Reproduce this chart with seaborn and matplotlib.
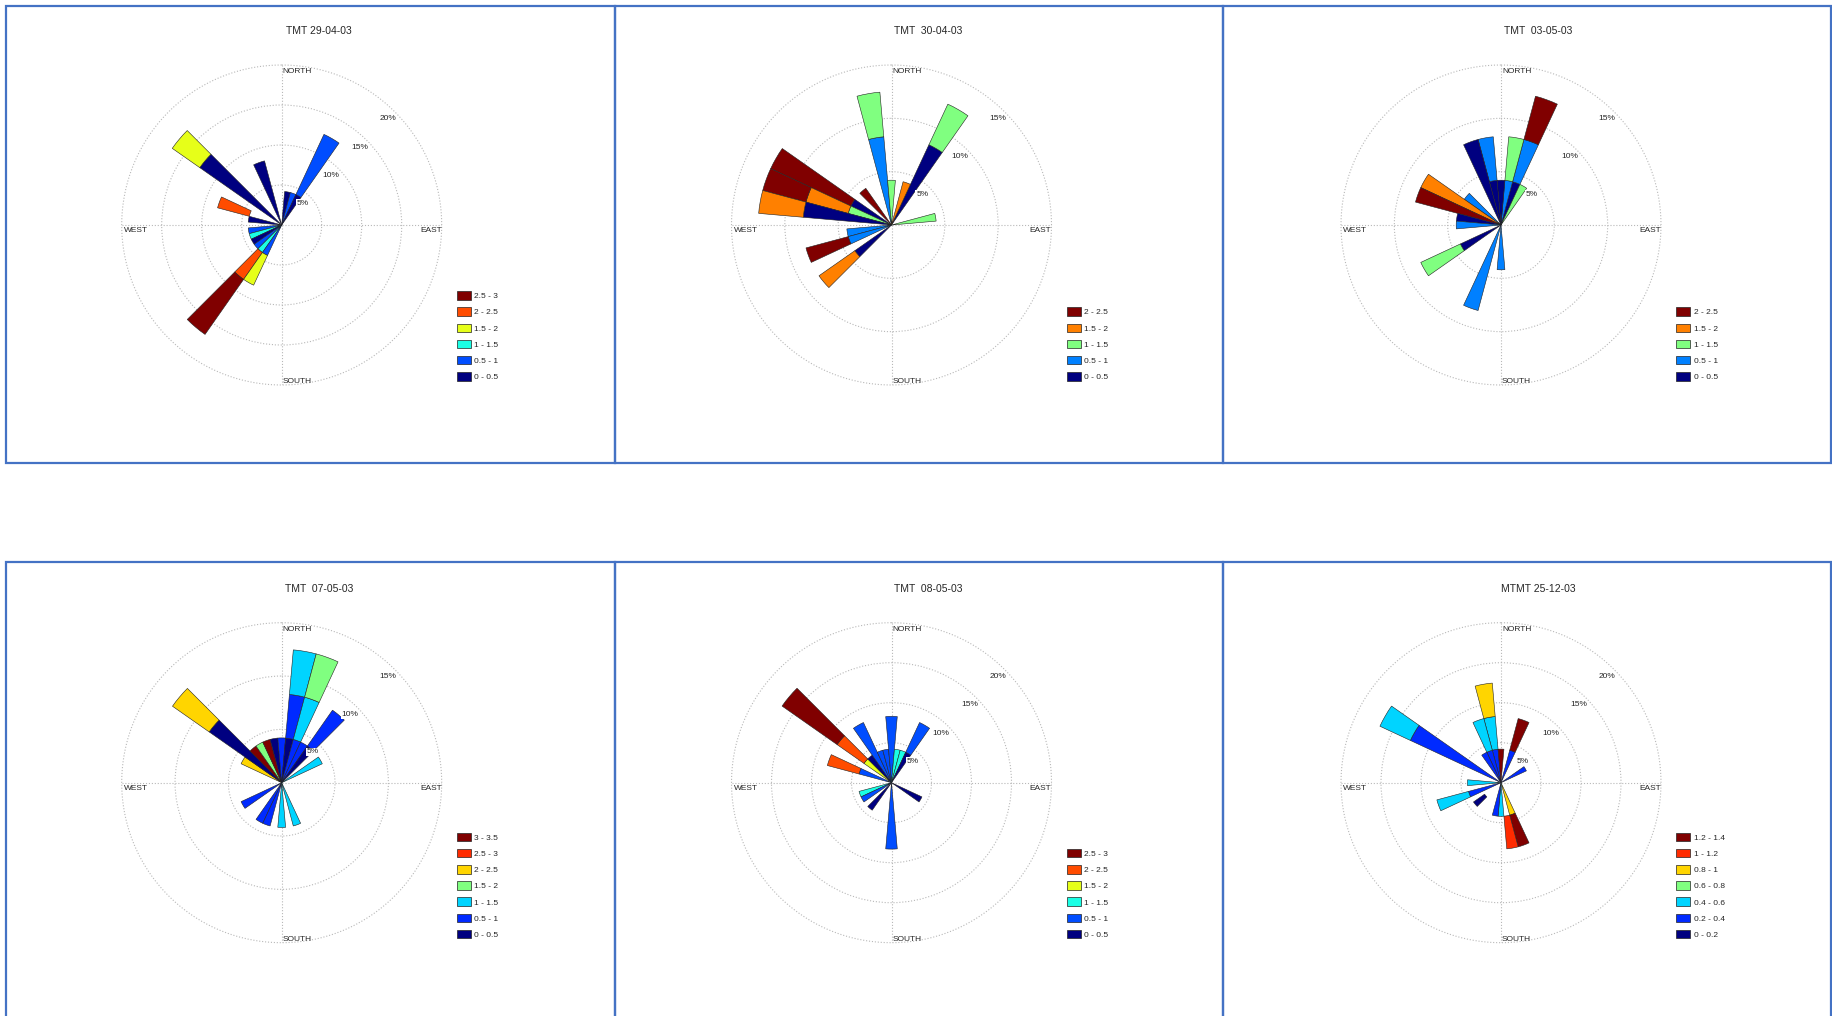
import numpy as np
import matplotlib
matplotlib.use("Agg")
import matplotlib.pyplot as plt
import seaborn as sns
from matplotlib.patches import Patch, Rectangle

sns.set_theme(style="white")
plt.rcParams['font.family'] = ['Liberation Sans', 'DejaVu Sans']

# 图表标题
titles = ["TMT 29-04-03", "TMT  30-04-03", "TMT  03-05-03",
          "TMT  07-05-03", "TMT  08-05-03", "MTMT 25-12-03"]

# 风速分级 (图例)
classes_6 = ["0 - 0.5", "0.5 - 1", "1 - 1.5", "1.5 - 2", "2 - 2.5", "2.5 - 3"]
classes_5 = ["0 - 0.5", "0.5 - 1", "1 - 1.5", "1.5 - 2", "2 - 2.5"]
classes_7 = ["0 - 0.5", "0.5 - 1", "1 - 1.5", "1.5 - 2", "2 - 2.5", "2.5 - 3", "3 - 3.5"]
classes_mtmt = ["0 - 0.2", "0.2 - 0.4", "0.4 - 0.6", "0.6 - 0.8", "0.8 - 1", "1 - 1.2", "1.2 - 1.4"]

# 频率圆环 (%)
rings_20 = [5, 10, 15, 20]
rings_15 = [5, 10, 15]

# 风向段: (方向 deg, 风速等级, 起始 %, 结束 %)
rose_2904 = [
    (10, 0, 0, 4.2), (20, 1, 0, 4.2), (30, 0, 0, 4.2), (30, 1, 4.2, 12.5),
    (340, 0, 0, 8.3), (310, 0, 0, 12.5), (310, 3, 12.5, 16.7),
    (290, 4, 4.2, 8.3), (280, 0, 0, 4.2), (260, 1, 0, 4.2), (250, 2, 0, 4.2),
    (240, 0, 0, 4.2), (230, 1, 0, 4.2),
    (220, 2, 0, 4.2), (220, 4, 4.2, 8.3), (220, 5, 8.3, 16.7),
    (210, 1, 0, 4.2), (210, 3, 4.2, 8.3),
]
rose_3004 = [
    (350, 1, 0, 8.3), (350, 2, 8.3, 12.5), (30, 0, 0, 8.3), (30, 2, 8.3, 12.5),
    (0, 2, 0, 4.2), (20, 3, 0, 4.2), (80, 2, 0, 4.2),
    (300, 0, 0, 4.2), (300, 4, 4.2, 12.5),
    (290, 2, 0, 4.2), (290, 3, 4.2, 8.3), (290, 4, 8.3, 12.5),
    (280, 0, 0, 8.3), (280, 3, 8.3, 12.5), (320, 4, 0, 4.2),
    (260, 1, 0, 4.2), (250, 1, 0, 4.2), (250, 4, 4.2, 8.3),
    (230, 0, 0, 4.2), (230, 3, 4.2, 8.3),
]
rose_0305 = [
    (20, 0, 0, 4.2), (20, 1, 4.2, 8.3), (20, 4, 8.3, 12.5),
    (10, 1, 0, 4.2), (10, 2, 4.2, 8.3), (30, 2, 0, 4.2), (0, 0, 0, 4.2),
    (350, 0, 0, 4.2), (350, 1, 4.2, 8.3), (340, 0, 0, 8.3), (310, 1, 0, 4.2),
    (300, 3, 0, 8.3), (290, 4, 0, 8.3), (280, 0, 0, 4.2), (270, 1, 0, 4.2),
    (240, 0, 0, 4.2), (240, 2, 4.2, 8.3), (200, 1, 0, 8.3), (180, 1, 0, 4.2),
]
rose_0705 = [
    (300, 4, 0, 4.2), (310, 0, 0, 8.3), (310, 4, 8.3, 12.5),
    (320, 6, 0, 4.2), (330, 3, 0, 4.2), (340, 6, 0, 4.2), (350, 0, 0, 4.2),
    (0, 1, 0, 4.2), (10, 0, 0, 4.2), (10, 1, 4.2, 8.3), (10, 2, 8.3, 12.5),
    (20, 1, 0, 4.2), (20, 2, 4.2, 8.3), (20, 3, 8.3, 12.5),
    (30, 1, 0, 4.2), (40, 0, 0, 4.2), (40, 1, 4.2, 8.3), (60, 2, 0, 4.2),
    (240, 1, 0, 4.2), (210, 1, 0, 4.2), (200, 1, 0, 4.2),
    (180, 2, 0, 4.2), (160, 2, 0, 4.2),
]
rose_0805 = [
    (310, 3, 0, 4.2), (310, 4, 4.2, 8.3), (310, 5, 8.3, 16.7),
    (320, 0, 0, 4.2), (290, 1, 0, 4.2), (290, 4, 4.2, 8.3),
    (330, 1, 0, 8.3), (340, 1, 0, 4.2), (350, 1, 0, 4.2), (0, 1, 0, 8.3),
    (10, 2, 0, 4.2), (20, 2, 0, 4.2), (30, 0, 0, 4.2), (30, 1, 4.2, 8.3),
    (250, 2, 0, 4.2), (240, 1, 0, 4.2), (220, 0, 0, 4.2),
    (180, 1, 0, 8.3), (120, 0, 0, 4.2),
]
rose_2512 = [
    (300, 1, 0, 12.5), (300, 2, 12.5, 16.7),
    (350, 1, 0, 4.2), (350, 2, 4.2, 8.3), (350, 4, 8.3, 12.5),
    (340, 1, 0, 4.2), (340, 2, 4.2, 8.3), (330, 1, 0, 4.2), (0, 6, 0, 4.2),
    (20, 1, 0, 4.2), (20, 6, 4.2, 8.3), (60, 1, 0, 3.5),
    (160, 4, 0, 4.2), (160, 6, 4.2, 8.3), (170, 5, 4.2, 8.3),
    (180, 2, 0, 4.2), (190, 1, 0, 4.2), (230, 0, 2.5, 4.2),
    (250, 1, 0, 4.2), (250, 2, 4.2, 8.3), (270, 2, 0, 4.2),
]

charts = [
    (rose_2904, classes_6, rings_20), (rose_3004, classes_5, rings_15),
    (rose_0305, classes_5, rings_15), (rose_0705, classes_7, rings_15),
    (rose_0805, classes_6, rings_20), (rose_2512, classes_mtmt, rings_20),
]

W, H = 1832, 1016
centers = [(281.7, 225), (891.5, 225), (1501, 225),
           (281.7, 782.7), (891.5, 782.7), (1501, 782.7)]
R = 160
grid_col = "#b8b8b8"


def matlab_jet(n):
    """MATLAB 风格的 jet 色表"""
    t = np.linspace(0, 1, n)
    r = np.clip(np.minimum(4 * t - 1.5, -4 * t + 4.5), 0, 1)
    g = np.clip(np.minimum(4 * t - 0.5, -4 * t + 3.5), 0, 1)
    b = np.clip(np.minimum(4 * t + 0.5, -4 * t + 2.5), 0, 1)
    return sns.color_palette(list(zip(r, g, b)))


def draw_rose(ax, segs, classes, rings):
    """绘制单个风玫瑰图"""
    rmax = rings[-1]
    colors = matlab_jet(len(classes))

    ax.set_theta_zero_location("N")
    ax.set_theta_direction(-1)
    ax.set_rlim(0, rmax)
    ax.set_xticks(np.deg2rad([0, 90, 180, 270]))
    ax.set_yticks(rings[:-1])
    ax.set_xticklabels([])
    ax.set_yticklabels([])
    ax.tick_params(length=0)
    ax.grid(True, color=grid_col, linestyle=":", linewidth=0.8)
    ax.spines["polar"].set_visible(False)
    ax.set_axisbelow(True)

    # 外圈
    th = np.linspace(0, 2 * np.pi, 361)
    ax.plot(th, np.full_like(th, rmax), linestyle=":", color=grid_col,
            linewidth=0.8, clip_on=False, zorder=1)

    for d, c, lo, hi in segs:
        ax.bar(np.deg2rad(d), hi - lo, width=np.deg2rad(10), bottom=lo,
               color=colors[c], edgecolor="#222222", linewidth=0.4, zorder=2)

    # 百分比标签
    for r in rings:
        ax.annotate(f"{r}%", xy=(np.deg2rad(45), r), xytext=(-7, -7),
                    textcoords="offset pixels", ha="center", va="center",
                    fontsize=6, zorder=6,
                    bbox=dict(fc="white", ec="none", pad=0.6))

    # 方位标签
    ax.annotate("NORTH", xy=(0, rmax), xytext=(1, -3), textcoords="offset pixels",
                ha="left", va="top", fontsize=6, annotation_clip=False)
    ax.annotate("SOUTH", xy=(np.pi, rmax), xytext=(1, 0), textcoords="offset pixels",
                ha="left", va="bottom", fontsize=6, annotation_clip=False)
    ax.annotate("WEST", xy=(1.5 * np.pi, rmax), xytext=(2, -2), textcoords="offset pixels",
                ha="left", va="top", fontsize=6, annotation_clip=False)
    ax.annotate("EAST", xy=(0.5 * np.pi, rmax), xytext=(0, -2), textcoords="offset pixels",
                ha="right", va="top", fontsize=6, annotation_clip=False)

    handles = [Patch(facecolor=colors[i], edgecolor="#222222", linewidth=0.5,
                     label=classes[i]) for i in reversed(range(len(classes)))]
    ax.legend(handles=handles, loc="lower left", bbox_to_anchor=(1.047, 0.012),
              frameon=False, fontsize=6, handlelength=1.7, handleheight=1.2,
              handletextpad=0.4, labelspacing=0.85, borderpad=0, borderaxespad=0)


fig = plt.figure(figsize=(W / 100, H / 100), dpi=100)

for (segs, classes, rings), (cx, cy), title in zip(charts, centers, titles):
    ax = fig.add_axes([(cx - R) / W, (H - cy - R) / H, 2 * R / W, 2 * R / H],
                      projection="polar")
    draw_rose(ax, segs, classes, rings)
    fig.text((cx + 37) / W, 1 - (cy - 194) / H, title, ha="center", va="center",
             fontsize=7.5)

# 表格边框
xs = [6, 615, 1223, 1831]
for x0, x1 in zip(xs[:-1], xs[1:]):
    for y_top, y_bot in [(6, 463), (562, 1030)]:
        fig.add_artist(Rectangle((x0 / W, 1 - y_bot / H), (x1 - x0) / W,
                                 (y_bot - y_top) / H, transform=fig.transFigure,
                                 fill=False, edgecolor="#4472c4", linewidth=1.6))

fig.savefig("out.png", dpi=100)
